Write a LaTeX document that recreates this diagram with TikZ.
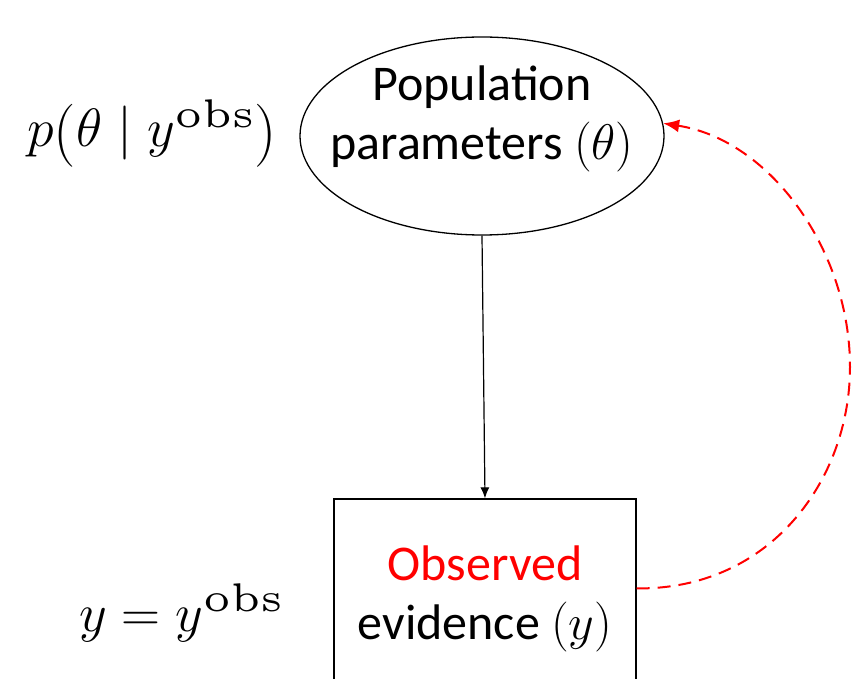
\RequirePackage{fix-cm}
\documentclass[tikz,border=0pt]{standalone}
\usepackage{fontspec}
\newfontfamily\carlito{Carlito}
\font\obsfont=cmr5 at 40pt
\newcommand{\yobs}{y^{\hbox{\obsfont obs}}}
\newcommand{\bigopen}{\mathopen{\raisebox{-5pt}{\fontsize{63}{63}\selectfont(}}}
\newcommand{\bigclose}{\mathclose{\raisebox{-5pt}{\fontsize{63}{63}\selectfont)}}}
\usetikzlibrary{arrows.meta,shapes.geometric}

\begin{document}
\begin{tikzpicture}[x=1pt, y=-1pt, >=Latex]
  \useasboundingbox (0,0) rectangle (852,679);
  \clip (0,0) rectangle (852,679);
  \tikzset{
    boxtext/.style={font=\carlito\fontsize{50}{59}\selectfont, align=center},
    mathlbl/.style={font=\fontsize{54}{60}\selectfont, anchor=base}
  }
  \node[draw, ellipse, boxtext, line width=1.3pt, minimum width=364pt,
    minimum height=198pt, inner xsep=-40pt, inner ysep=-12pt, text depth=46pt]
    (pop) at (482,136) {Population\\parameters $(\theta)$};
  \node[draw, rectangle, boxtext, line width=1.3pt, minimum width=302pt,
    minimum height=200pt] (obs) at (485,599)
    {\textcolor{red}{Observed}\\evidence $(y)$};
  \node[mathlbl] (post) at (152,147) {$p\bigopen\theta \mid \yobs\bigclose$};
  \node[mathlbl] (fix) at (181,631) {$y = \yobs$};
  \draw[->, line width=1.2pt, -{Latex[length=11pt,width=9pt]}] (pop.south) -- (obs.north);
  \draw[red, line width=2pt, dash pattern=on 13pt off 8pt,
    -{Latex[length=16pt,width=13pt]}]
    (obs.4) .. controls (770,590) and (850,480) .. (850,367)
    .. controls (850,250) and (770,140) .. (pop.4.5);
\end{tikzpicture}
\end{document}
